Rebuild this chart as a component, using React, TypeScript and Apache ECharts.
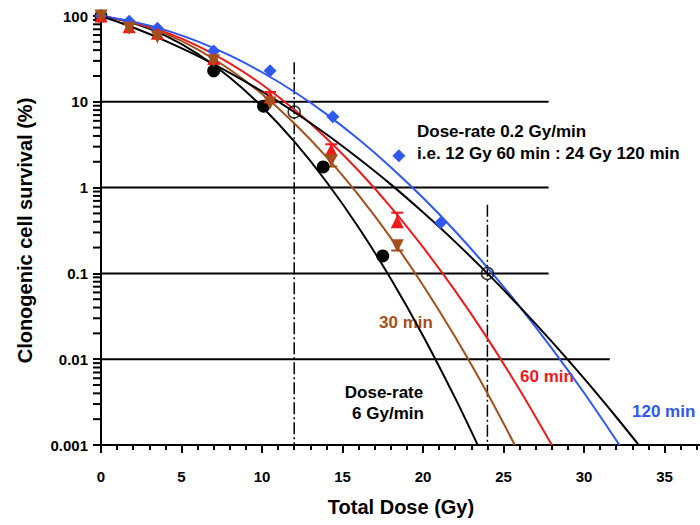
import React, { useEffect, useRef } from 'react';
import * as echarts from 'echarts';

// ---- measured data points ----
const doseRate6 = [0, 7, 10.1, 13.8, 17.5];
const surv6 = [100, 23, 8.9, 1.74, 0.16];

const dose30 = [0, 1.75, 3.5, 7, 10.5, 14.3, 18.4];
const surv30 = [100, 72, 57, 30, 9.7, 2.05, 0.21];

const dose60 = [0, 1.75, 3.5, 7, 10.5, 14.3, 18.4];
const surv60 = [100, 75, 63, 32, 11.4, 2.74, 0.40];

const dose120 = [0, 1.75, 3.5, 7, 10.5, 14.4, 18.5, 21.1];
const surv120 = [100, 87, 72, 39, 23, 6.7, 2.35, 0.39];

const doseOpen = [12, 24];
const survOpen = [7.6, 0.1];

// error bars: [dose, value, cap]
const err60 = [[10.5, 11.4, 13.0], [14.3, 2.74, 3.2], [18.4, 0.40, 0.51]];
const err30 = [[14.3, 2.05, 1.76], [18.4, 0.21, 0.185]];

// ---- fitted curves ----
const curveDose6 = [0, 2, 4, 6, 8, 10, 12, 14, 16, 18, 20, 22, 23.4];
const curveSurv6 = [100, 82.7, 59.0, 36.2, 19.2, 8.77, 3.45, 1.17, 0.343, 0.0865, 0.0188, 0.00352, 0.001];

const curveDose30 = [0, 2, 4, 6, 8, 10, 12, 14, 16, 18, 20, 22, 24, 25.7];
const curveSurv30 = [100, 83.8, 62.3, 40.9, 23.8, 12.3, 5.62, 2.28, 0.815, 0.259, 0.0728, 0.0181, 0.004, 0.001];

const curveDose60 = [0, 2, 4, 6, 8, 10, 12, 14, 16, 18, 20, 22, 24, 26, 28];
const curveSurv60 = [100, 84.7, 64.8, 44.9, 28.1, 15.9, 8.13, 3.76, 1.57, 0.593, 0.202, 0.0625, 0.0175, 0.0044, 0.001];

const curveDose120 = [0, 2, 4, 6, 8, 10, 12, 14, 16, 18, 20, 22, 24, 26, 28, 30, 32.2];
const curveSurv120 = [100, 85.8, 68.4, 50.6, 34.7, 22.1, 13.1, 7.19, 3.66, 1.73, 0.76, 0.31, 0.117, 0.0411, 0.0134, 0.00406, 0.001];

const curveDoseRate = [0, 2, 4, 6, 8, 10, 12, 14, 16, 18, 20, 22, 24, 26, 28, 30, 32, 33.4];
const curveSurvRate = [100, 73.5, 51.4, 34.3, 21.8, 13.2, 7.6, 4.18, 2.18, 1.09, 0.515, 0.233, 0.1, 0.041, 0.016, 0.00597, 0.00212, 0.001];

// ---- reference lines ----
const hLineLevels = [10, 1, 0.1, 0.01];
const hLineEnds = [27.8, 27.8, 27.8, 31.6];
const vLineDoses = [12, 24];
const vLineTops = [29, 0.63];

const xTickLabels = [0, 5, 10, 15, 20, 25, 30, 35];
const yMinorTicks = [
  0.002, 0.003, 0.004, 0.005, 0.006, 0.007, 0.008, 0.009,
  0.02, 0.03, 0.04, 0.05, 0.06, 0.07, 0.08, 0.09,
  0.2, 0.3, 0.4, 0.5, 0.6, 0.7, 0.8, 0.9,
  2, 3, 4, 5, 6, 7, 8, 9,
  20, 30, 40, 50, 60, 70, 80, 90,
];

const BLUE = '#2f58f0';
const RED = '#f01a1a';
const BROWN = '#a5501c';
const FONT = '"Liberation Sans", Arial, sans-serif';

const zip = (xs: number[], ys: number[]) => xs.map((x, i) => [x, ys[i]]);

export default function App() {
  const ref = useRef<HTMLDivElement>(null);
  useEffect(() => {
    if (!ref.current) return;
    const chart = echarts.init(ref.current, null, { renderer: 'svg' });

    const curve = (name: string, xs: number[], ys: number[], color: string) => ({
      name, type: 'line', data: zip(xs, ys), smooth: 0.3, showSymbol: false, symbol: 'none',
      lineStyle: { color, width: 2 }, z: 3, silent: true,
    });
    const scatter = (name: string, xs: number[], ys: number[], color: string, symbol: string, rotate = 0, z = 5) => ({
      name, type: 'scatter', data: zip(xs, ys), symbol, symbolSize: 13, symbolRotate: rotate,
      itemStyle: { color, opacity: 1 }, z, silent: true,
    });
    const errSeries = (data: number[][], color: string) => ({
      type: 'custom', data, z: 4, silent: true,
      encode: { x: 0, y: [1, 2] },
      renderItem: (_p: any, api: any) => {
        const x = api.value(0);
        const a = api.coord([x, api.value(1)]);
        const b = api.coord([x, api.value(2)]);
        return {
          type: 'group', children: [
            { type: 'line', shape: { x1: a[0], y1: a[1], x2: b[0], y2: b[1] }, style: { stroke: color, lineWidth: 2 } },
            { type: 'line', shape: { x1: b[0] - 6, y1: b[1], x2: b[0] + 6, y2: b[1] }, style: { stroke: color, lineWidth: 2 } },
          ],
        };
      },
    });

    const refLines: any[] = hLineLevels.map((lv, i) => ({
      type: 'line', data: [[0, lv], [hLineEnds[i], lv]], symbol: 'none', silent: true, z: 2,
      lineStyle: { color: '#000', width: 2 },
    }));
    vLineDoses.forEach((d, i) => {
      refLines.push({
        type: 'line', data: [[d, vLineTops[i]], [d, 0.001]], symbol: 'none', silent: true, z: 2,
        lineStyle: { color: '#000', width: 1.5, type: [12, 3, 2, 3] },
      });
    });

    const minorTickSeries = {
      type: 'custom', silent: true, clip: false, z: 6,
      data: yMinorTicks.map((v) => [0, v]),
      renderItem: (_p: any, api: any) => {
        const p = api.coord([0, api.value(1)]);
        return { type: 'line', shape: { x1: p[0] - 8, y1: p[1], x2: p[0], y2: p[1] }, style: { stroke: '#000', lineWidth: 2 } };
      },
    };

    const textStyle = (color: string) => ({ font: `bold 17px ${FONT}`, fill: color, verticalAlign: 'middle', align: 'left' });

    chart.setOption({
      animation: false,
      backgroundColor: '#fff',
      grid: { left: 101, top: 16, height: 429, width: 644, containLabel: false, outerBoundsMode: 'none' },
      xAxis: {
        type: 'value', min: 0, max: 40, interval: 5,
        axisLine: { onZero: false, lineStyle: { color: '#000', width: 2 } },
        axisTick: { length: 8, lineStyle: { color: '#000', width: 2 } },
        minorTick: { show: true, splitNumber: 5, length: 5, lineStyle: { color: '#000', width: 2 } },
        axisLabel: {
          margin: 24, color: '#000', fontWeight: 'bold', fontSize: 15, fontFamily: FONT,
          formatter: (v: number) => (xTickLabels.includes(v) ? String(v) : ''),
        },
        splitLine: { show: false },
      },
      yAxis: {
        type: 'log', logBase: 10, min: 0.001, max: 100,
        name: 'Clonogenic cell survival (%)', nameLocation: 'middle', nameGap: 66,
        nameTextStyle: { color: '#000', fontWeight: 'bold', fontSize: 20, fontFamily: FONT },
        axisLine: { lineStyle: { color: '#000', width: 2 } },
        axisTick: { length: 8, lineStyle: { color: '#000', width: 2 } },
        axisLabel: {
          margin: 13, color: '#000', fontWeight: 'bold', fontSize: 15, fontFamily: FONT,
          formatter: (v: number) => String(v),
        },
        splitLine: { show: false },
      },
      graphic: [
        { type: 'text', x: 401, y: 507, style: { text: 'Total Dose (Gy)', font: `bold 20px ${FONT}`, fill: '#000', align: 'center', verticalAlign: 'middle' } },
        { type: 'text', x: 417, y: 131, style: { text: 'Dose-rate 0.2 Gy/min', ...textStyle('#000') } },
        { type: 'text', x: 417, y: 153, style: { text: 'i.e. 12 Gy 60 min : 24 Gy 120 min', ...textStyle('#000') } },
        { type: 'text', x: 379, y: 322, style: { text: '30 min', ...textStyle(BROWN) } },
        { type: 'text', x: 520, y: 376, style: { text: '60 min', ...textStyle(RED) } },
        { type: 'text', x: 632, y: 411, style: { text: '120 min', ...textStyle(BLUE) } },
        { type: 'text', x: 384, y: 392, style: { text: 'Dose-rate', ...textStyle('#000'), align: 'center' } },
        { type: 'text', x: 388, y: 413, style: { text: '6 Gy/min', ...textStyle('#000'), align: 'center' } },
      ],
      series: [
        ...refLines,
        curve('6 Gy/min fit', curveDose6, curveSurv6, '#000'),
        curve('30 min fit', curveDose30, curveSurv30, BROWN),
        curve('60 min fit', curveDose60, curveSurv60, RED),
        curve('120 min fit', curveDose120, curveSurv120, BLUE),
        curve('0.2 Gy/min fit', curveDoseRate, curveSurvRate, '#000'),
        errSeries(err60, RED),
        errSeries(err30, BROWN),
        scatter('6 Gy/min', doseRate6, surv6, '#000', 'circle', 0, 5),
        scatter('120 min', dose120, surv120, BLUE, 'diamond', 0, 6),
        scatter('60 min', dose60, surv60, RED, 'triangle', 0, 7),
        scatter('30 min', dose30, surv30, BROWN, 'triangle', 180, 8),
        {
          name: '0.2 Gy/min', type: 'scatter', data: zip(doseOpen, survOpen), symbol: 'circle', symbolSize: 12,
          itemStyle: { color: 'rgba(0,0,0,0)', borderColor: '#000', borderWidth: 1.5 }, z: 9, silent: true,
        },
        minorTickSeries,
      ],
    });
    return () => chart.dispose();
  }, []);
  return <div ref={ref} style={{ position: 'fixed', left: 0, top: 0, width: 700, height: 525 }} />;
}
